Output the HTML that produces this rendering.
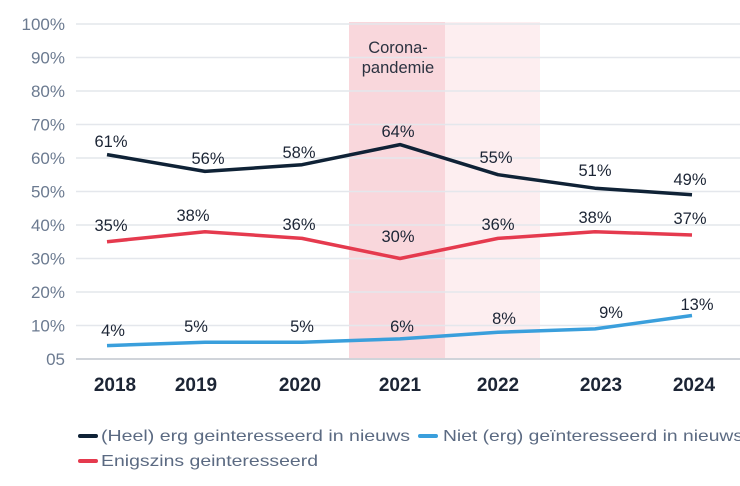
<!DOCTYPE html>
<html><head><meta charset="utf-8"><style>
html,body{margin:0;padding:0;background:#fff;width:740px;height:486px;overflow:hidden}
</style></head><body>
<svg width="740" height="486" xmlns="http://www.w3.org/2000/svg" font-family="Liberation Sans, sans-serif">
<rect x="349" y="22" width="96" height="338" fill="#f9d7dc"/>
<rect x="445" y="22" width="95" height="338" fill="#fdeef0"/>
<g stroke="#e4e7ec" stroke-width="1.5">
<line x1="76" x2="740" y1="24" y2="24"/><line x1="76" x2="740" y1="57.5" y2="57.5"/>
<line x1="76" x2="740" y1="91" y2="91"/><line x1="76" x2="740" y1="124.5" y2="124.5"/>
<line x1="76" x2="740" y1="158" y2="158"/><line x1="76" x2="740" y1="191.5" y2="191.5"/>
<line x1="76" x2="740" y1="225" y2="225"/><line x1="76" x2="740" y1="258.5" y2="258.5"/>
<line x1="76" x2="740" y1="292" y2="292"/><line x1="76" x2="740" y1="325.5" y2="325.5"/>
</g>
<line x1="76" x2="740" y1="359" y2="359" stroke="#d0d4da" stroke-width="2"/>
<g fill="#6b7a90" font-size="17" text-anchor="end">
<text x="65" y="30">100%</text><text x="65" y="63.5">90%</text><text x="65" y="97">80%</text>
<text x="65" y="130.5">70%</text><text x="65" y="164">60%</text><text x="65" y="197.5">50%</text>
<text x="65" y="231">40%</text><text x="65" y="264.5">30%</text><text x="65" y="298">20%</text>
<text x="65" y="331.5">10%</text><text x="65" y="365">05</text>
</g>
<g fill="#2b3240" font-size="16.5" text-anchor="middle">
<text x="398" y="53">Corona-</text><text x="398" y="73">pandemie</text>
</g>
<polyline fill="none" stroke="#0f2236" stroke-width="3.5" stroke-linejoin="round" points="107,154.6 205,171.4 302,164.7 400,144.6 498,174.7 595,188.2 692,194.8"/>
<polyline fill="none" stroke="#e53a4e" stroke-width="3.5" stroke-linejoin="round" points="107,241.7 205,231.7 302,238.4 400,258.5 498,238.4 595,231.7 692,235"/>
<polyline fill="none" stroke="#3a9fdc" stroke-width="3.5" stroke-linejoin="round" points="107,345.6 205,342.3 302,342.3 400,338.9 498,332.2 595,328.9 692,315.5"/>
<g fill="#1c2535" font-size="16.5" text-anchor="middle">
<text x="111" y="147">61%</text><text x="208" y="164">56%</text><text x="299" y="158">58%</text>
<text x="398" y="137">64%</text><text x="496" y="163">55%</text><text x="595" y="176">51%</text><text x="690" y="185">49%</text>
<text x="111" y="231">35%</text><text x="193" y="221">38%</text><text x="299" y="230">36%</text>
<text x="398" y="242">30%</text><text x="498" y="230">36%</text><text x="595" y="223">38%</text><text x="690" y="224">37%</text>
<text x="113" y="336">4%</text><text x="196" y="332">5%</text><text x="302" y="332">5%</text>
<text x="402" y="332">6%</text><text x="504" y="324">8%</text><text x="611" y="318">9%</text><text x="697" y="310">13%</text>
</g>
<g fill="#1c2535" font-size="19" font-weight="bold" text-anchor="middle">
<text x="115" y="391">2018</text><text x="196" y="391">2019</text><text x="300" y="391">2020</text>
<text x="400" y="391">2021</text><text x="498" y="391">2022</text><text x="601" y="391">2023</text><text x="694" y="391">2024</text>
</g>
<g font-size="16" fill="#5b6a82">
<line x1="80" x2="96" y1="436" y2="436" stroke="#0f2236" stroke-width="4" stroke-linecap="round"/>
<text x="101" y="441" textLength="309" lengthAdjust="spacingAndGlyphs">(Heel) erg geinteresseerd in nieuws</text>
<line x1="420" x2="436" y1="436" y2="436" stroke="#3a9fdc" stroke-width="4" stroke-linecap="round"/>
<text x="443" y="441" textLength="300" lengthAdjust="spacingAndGlyphs">Niet (erg) geïnteresseerd in nieuws</text>
<line x1="80" x2="96" y1="461" y2="461" stroke="#e53a4e" stroke-width="4" stroke-linecap="round"/>
<text x="101" y="466" textLength="217" lengthAdjust="spacingAndGlyphs">Enigszins geinteresseerd</text>
</g>
</svg>
</body></html>
